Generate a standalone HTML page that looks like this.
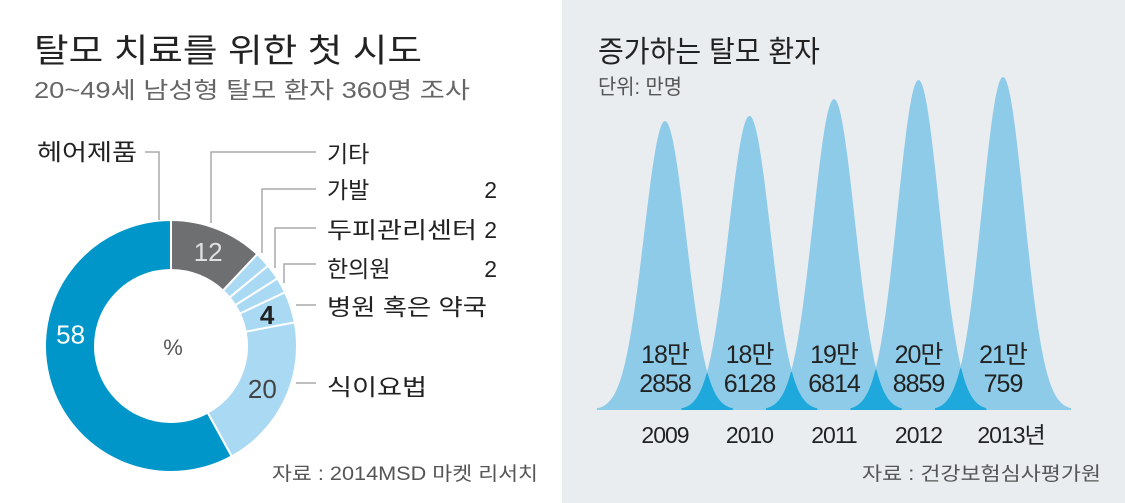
<!DOCTYPE html>
<html><head><meta charset="utf-8"><style>
html,body{margin:0;padding:0;background:#fff}
svg{display:block}
text{font-family:"Liberation Sans","Noto Sans CJK KR",sans-serif}
</style></head><body>
<svg id="chart" width="1125" height="503" viewBox="0 0 1125 503" xmlns="http://www.w3.org/2000/svg">
<rect x="0" y="0" width="562" height="503" fill="#ffffff"/>
<rect x="562" y="0" width="563" height="503" fill="#e9edf0"/>
<text x="34" y="62" font-size="33" fill="#222" textLength="388" lengthAdjust="spacingAndGlyphs">탈모 치료를 위한 첫 시도</text>
<text x="34" y="98" font-size="23" fill="#666" textLength="436" lengthAdjust="spacingAndGlyphs">20~49세 남성형 탈모 환자 360명 조사</text>
<text x="598" y="62" font-size="30" fill="#222" textLength="222" lengthAdjust="spacingAndGlyphs">증가하는 탈모 환자</text>
<text x="598" y="94" font-size="21" fill="#555" textLength="84" lengthAdjust="spacingAndGlyphs">단위: 만명</text>
<g id="donut"></g>
<g id="donut-labels" font-size="23" fill="#222">
<polyline points="145,152 159,152 159,220" fill="none" stroke="#aaa" stroke-width="1.5"/>
<text x="37" y="160" textLength="100" lengthAdjust="spacingAndGlyphs">헤어제품</text>
<polyline points="211,223 211,152 316,152" fill="none" stroke="#aaa" stroke-width="1.5"/>
<text x="327" y="162">기타</text>
<polyline points="262,253 262,189 316,189" fill="none" stroke="#aaa" stroke-width="1.5"/>
<text x="327" y="198">가발</text>
<text x="497" y="198" text-anchor="end">2</text>
<polyline points="275,268 275,228 316,228" fill="none" stroke="#aaa" stroke-width="1.5"/>
<text x="327" y="238" textLength="150" lengthAdjust="spacingAndGlyphs">두피관리센터</text>
<text x="497" y="238" text-anchor="end">2</text>
<polyline points="284,283 284,264 316,264" fill="none" stroke="#aaa" stroke-width="1.5"/>
<text x="327" y="277">한의원</text>
<text x="497" y="277" text-anchor="end">2</text>
<line x1="296" y1="305" x2="316" y2="305" stroke="#aaa" stroke-width="1.5"/>
<text x="327" y="315" textLength="160" lengthAdjust="spacingAndGlyphs">병원 혹은 약국</text>
<line x1="296" y1="383" x2="316" y2="383" stroke="#aaa" stroke-width="1.5"/>
<text x="327" y="395" textLength="100" lengthAdjust="spacingAndGlyphs">식이요법</text>
</g>
<text x="173" y="355" font-size="22" fill="#555" text-anchor="middle">%</text>
<text x="272" y="480" font-size="19" fill="#555" textLength="266" lengthAdjust="spacingAndGlyphs">자료 : 2014MSD 마켓 리서치</text>
<g id="peaks"></g>
<text x="1101" y="480" font-size="19" fill="#555" text-anchor="end" textLength="239" lengthAdjust="spacingAndGlyphs">자료 : 건강보험심사평가원</text>
</svg>
<script>
// donut data
const segLabels = ["기타","가발","두피관리센터","한의원","병원 혹은 약국","식이요법","헤어제품"];
const segValues = [12,2,2,2,4,20,58];
const segText = ["12","","","","4","20","58"];
// peak data
const years = ["2009","2010","2011","2012","2013년"];
const patientsMan = [18.2858,18.6128,19.6814,20.8859,21.0759];
const lineTop = ["18만","18만","19만","20만","21만"];
const lineBottom = ["2858","6128","6814","8859","759"];

const NS="http://www.w3.org/2000/svg";
function mk(tag,attrs,parent){const e=document.createElementNS(NS,tag);for(const k in attrs)e.setAttribute(k,attrs[k]);parent.appendChild(e);return e;}

// donut
const cx=171,cy=346,R=126,r=76;
const total=segValues.reduce((a,b)=>a+b,0);
const colors=["#6e6f71","#a9d9f3","#a9d9f3","#a9d9f3","#a9d9f3","#a9d9f3","#0096c9"];
const textCol=["#e0e0e0","#222","#222","#222","#222","#444","#ffffff"];
const gD=document.getElementById('donut');
function pt(a,rad){return [cx+rad*Math.sin(a),cy-rad*Math.cos(a)];}
let acc=0;
segValues.forEach((v,i)=>{
  const a0=acc/total*2*Math.PI, a1=(acc+v)/total*2*Math.PI; acc+=v;
  const large=(a1-a0)>Math.PI?1:0;
  const p0=pt(a0,R),p1=pt(a1,R),q1=pt(a1,r),q0=pt(a0,r);
  const d=`M${p0[0]},${p0[1]} A${R},${R} 0 ${large} 1 ${p1[0]},${p1[1]} L${q1[0]},${q1[1]} A${r},${r} 0 ${large} 0 ${q0[0]},${q0[1]}Z`;
  const p=mk('path',{d:d,fill:colors[i],stroke:'#fff','stroke-width':2},gD);
  
  
  if(segText[i]){
    let am=(a0+a1)/2;
    if(v>50) am=a0+(a1-a0)*0.6;
    const c=pt(am,(R+r)/2);
    const t=mk('text',{x:c[0],y:c[1]+9,'font-size':26,fill:textCol[i],'text-anchor':'middle','font-weight':segText[i]==="4"?'bold':'normal'},gD);
    t.textContent=segText[i];
    
    
  }
});

// peaks
const gP=document.getElementById('peaks');
const base=410,k=15.8,x0=665,dx=84.5,sig=21;
const xPos=i=>x0+i*dx;
const hOf=v=>v*k;
function g(i,x){return hOf(patientsMan[i])*Math.exp(-Math.pow(x-xPos(i),2)/(2*sig*sig));}
patientsMan.forEach((v,i)=>{
  let d=`M${xPos(i)-68},${base}`;
  for(let x=xPos(i)-68;x<=xPos(i)+68;x+=1){d+=` L${x},${base-Math.max(g(i,x),2)}`;}
  d+=` L${xPos(i)+68},${base}Z`;
  const p=mk('path',{d:d,fill:'#8ecbe8'},gP);
  
  
});
for(let i=0;i<patientsMan.length-1;i++){
  const xa=xPos(i+1)-68,xb=xPos(i)+68;
  let d=`M${xa},${base}`;
  for(let x=xa;x<=xb;x+=1){d+=` L${x},${base-Math.min(Math.max(g(i,x),2),Math.max(g(i+1,x),2))}`;}
  d+=` L${xb},${base}Z`;
  const p=mk('path',{d:d,fill:'#1fa8dc'},gP);
  
  
}
years.forEach((y,i)=>{
  const t1=mk('text',{x:xPos(i),y:363,'font-size':25,fill:'#222','text-anchor':'middle','letter-spacing':-1},gP);
  t1.textContent=lineTop[i];
  
  
  const t2=mk('text',{x:xPos(i),y:392,'font-size':25,fill:'#222','text-anchor':'middle','letter-spacing':-1},gP);
  t2.textContent=lineBottom[i];
  
  
  const t3=mk('text',{x:xPos(i)+(i===4?8:0),y:443,'font-size':23,fill:'#222','text-anchor':'middle','letter-spacing':-1},gP);
  t3.textContent=y;
  
  
});
</script>
</body></html>
